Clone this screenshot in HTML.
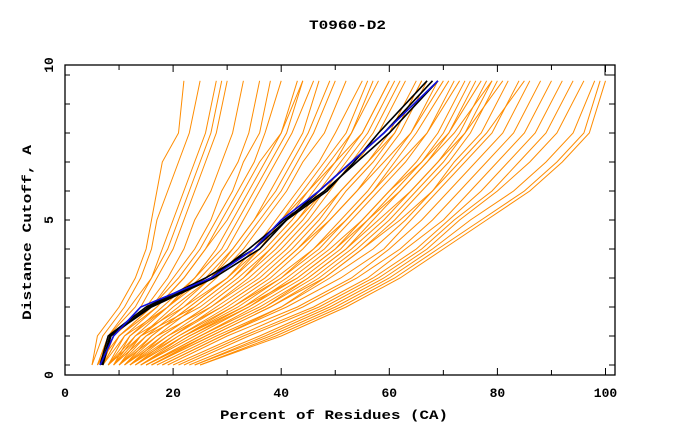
<!DOCTYPE html>
<html><head><meta charset="utf-8"><style>
body{margin:0;background:#fff;}
svg text{font-family:"Liberation Mono","DejaVu Sans Mono",monospace;font-weight:bold;font-size:13px;fill:#000;}
</style></head><body>
<svg id="chart" width="680" height="440" viewBox="0 0 680 440" xmlns="http://www.w3.org/2000/svg">
<text x="309" y="29" textLength="77" lengthAdjust="spacingAndGlyphs">T0960-D2</text>
<text x="220" y="419" textLength="228" lengthAdjust="spacingAndGlyphs">Percent of Residues (CA)</text>
<text x="0" y="0" transform="translate(31,320) rotate(-90)" textLength="175" lengthAdjust="spacingAndGlyphs">Distance Cutoff, A</text>
<g id="lines"></g>
<g id="axes"></g>
</svg>
<script>
const levels=[0,1,2,3,4,5,6,7,8,9.8];
const orangeSeries=[
[5,6,10,13,15,16,17,18,21,22],[5,7,11,14,16,17,19,21,23,25],[6,8,12,16,18,20,22,24,26,28],
[6,8,13,16,19,21,23,25,27,29],[6,9,14,17,20,22,24,26,28,30],[7,9,15,19,22,24,27,29,31,33],
[7,10,16,20,24,27,29,32,34,36],[7,10,16,21,25,28,31,33,36,38],[8,11,17,22,26,29,32,35,37,40],
[8,12,18,24,28,31,34,37,40,43],[9,12,19,24,29,32,35,38,41,44],[9,13,19,25,30,33,36,39,42,46],
[9,14,20,27,31,35,39,42,45,49],[10,14,21,27,32,36,40,43,46,50],[10,15,22,28,33,37,41,44,48,52],
[10,16,23,30,35,39,43,47,50,55],[11,16,23,30,35,40,44,48,52,56],[11,17,24,31,36,41,45,49,53,57],
[11,18,26,33,38,43,47,51,55,60],[12,18,26,33,39,44,48,52,56,61],[12,19,27,34,40,45,49,53,57,62],
[12,20,28,36,42,47,51,56,60,65],[13,20,29,37,43,48,52,57,61,66],[13,21,30,38,44,49,54,58,62,67],
[13,22,31,39,46,51,56,60,64,70],[14,22,32,40,47,52,57,61,65,71],[14,23,33,41,48,53,58,63,67,72],
[14,24,34,43,50,55,60,65,69,74],[15,25,35,44,51,56,61,66,70,75],[15,25,36,45,52,57,62,67,71,76],
[15,26,37,46,53,59,64,69,73,78],[16,27,38,47,54,60,65,70,74,79],[16,27,38,48,55,61,66,71,75,80],
[17,28,40,49,57,63,68,72,77,82],[18,29,41,51,59,64,69,74,79,84],[19,30,43,53,60,66,71,76,81,86],
[20,32,44,54,62,68,73,78,83,88],[21,33,46,56,63,70,75,80,85,90],[22,34,47,57,65,71,77,82,87,92],
[23,36,48,58,66,72,79,84,89,94],[24,37,49,59,67,73,80,86,91,96],[24,38,50,60,68,75,83,89,94,98],
[25,39,51,61,69,77,85,91,96,99],[25,40,52,62,70,78,86,92,97,100],
[8,13,22,30,36,40,45,50,55,60],[9,15,25,32,38,43,48,54,58,63],[10,17,27,35,41,46,51,56,61,66],
[11,19,29,37,43,49,54,59,64,69],[12,21,31,40,46,52,57,62,67,73],[14,23,34,42,49,55,60,66,71,77],
[16,26,37,45,52,58,64,69,74,81],[18,29,40,48,55,62,68,73,78,85],[6,10,17,22,26,30,33,36,40,44],
[7,11,19,26,31,35,38,41,44,47],[8,14,24,31,37,42,46,50,53,58],[13,22,33,43,50,56,62,67,72,79]
];
const blackSeries=[
[6.5,8,15,26,35,41,47,53,59,68],[7,8.5,15.5,27,34,40.5,48,54,60,69],[6.8,8.3,16,27.5,36,41,48.5,53.5,58,67]
];
const blueSeries=[[6.5,9,14,27,35,40,47,53,59,69]];
const xTicks=[0,20,40,60,80,100];
const yTickLabels=[0,5,10];

function sx(p){return 65+5.405*p;}
function sy(v){return 365-29*v;}
const NS="http://www.w3.org/2000/svg";
const lines=document.getElementById('lines');
function draw(series,color,w,name){
  series.forEach((s,i)=>{
    const pts=s.map((x,j)=>sx(x).toFixed(1)+','+sy(levels[j]).toFixed(1)).join(' ');
    const el=document.createElementNS(NS,'polyline');
    el.setAttribute('points',pts);el.setAttribute('fill','none');
    el.setAttribute('stroke',color);el.setAttribute('stroke-width',w);
    
    
    lines.appendChild(el);
  });
}
draw(orangeSeries,'#ff8c00',1,'model-line');
draw(blackSeries,'#000',1.6,'reference-line');
draw(blueSeries,'#1010e0',1.6,'target-line');

const ax=document.getElementById('axes');
let h='<rect x="65" y="65" width="550" height="310" fill="none" stroke="#000" stroke-width="1.3"/>';
h+='<rect x="605" y="65" width="10" height="10" fill="none" stroke="#000" stroke-width="1"/>';
for(let p=0;p<=100;p+=10){const x=sx(p);h+=`<line x1="${x}" y1="375" x2="${x}" y2="${p%20?370:368}" stroke="#000"/><line x1="${x}" y1="65" x2="${x}" y2="${p%20?70:72}" stroke="#000"/>`;}
for(let v=0;v<=10;v++){const y=sy(v);if(y<66)continue;h+=`<line x1="65" y1="${y}" x2="70" y2="${y}" stroke="#000"/><line x1="615" y1="${y}" x2="609" y2="${y}" stroke="#000"/>`;}
ax.innerHTML=h;
xTicks.forEach(t=>{const e=document.createElementNS(NS,'text');e.setAttribute('x',sx(t));e.setAttribute('y',397);e.setAttribute('text-anchor','middle');e.setAttribute('font-size','15');e.textContent=t;


ax.appendChild(e);});
const ylPos={0:375,5:220,10:65};
yTickLabels.forEach(t=>{const e=document.createElementNS(NS,'text');e.setAttribute('x',0);e.setAttribute('y',0);e.setAttribute('text-anchor','middle');e.setAttribute('font-size','15');e.setAttribute('transform',`translate(53,${ylPos[t]}) rotate(-90)`);e.textContent=t;


ax.appendChild(e);});
</script>
</body></html>
